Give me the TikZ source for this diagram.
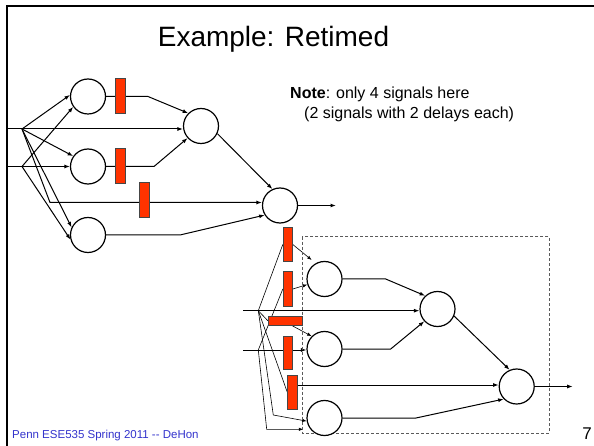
\documentclass[tikz,border=0pt]{standalone}
\usepackage{fontspec}
\setmainfont{Liberation Sans}
\usetikzlibrary{arrows.meta,calc}
\definecolor{regred}{RGB}{255,51,0}
\definecolor{regedge}{RGB}{70,70,70}
\definecolor{footblue}{RGB}{51,51,204}
\definecolor{boxgray}{RGB}{90,90,90}
\pgfdeclarelayer{wires}
\pgfsetlayers{wires,main}

\begin{document}
\begin{tikzpicture}[x=1pt,y=-1pt,
  gate/.style={circle, draw, line width=1.2pt, fill=white, minimum size=35pt, inner sep=0pt},
  wire/.style={line width=1pt},
  sig/.style={wire, -{Latex[length=5.5pt,width=4pt]}},
  fine/.style={line width=0.6pt},
  finesig/.style={fine, -{Latex[length=4.5pt,width=3.4pt]}},
  reg/.style={draw=regedge, fill=regred, line width=1pt, inner sep=0pt},
  vreg/.style={reg, minimum width=10pt, minimum height=35pt},
  dbox/.style={draw=boxgray, line width=0.8pt, dash pattern=on 3pt off 2pt},
  notetext/.style={font=\fontsize{16}{20}\selectfont, anchor=base west, inner sep=0pt}
]
\useasboundingbox (0,0) rectangle (594,446);

% slide frame
\draw[line width=2pt] (7,446) -- (7,6) -- (594,6);

% titles and labels
\node[font=\fontsize{28}{32}\selectfont, anchor=base] (title) at (273.5,47) {Example: Retimed};
\node[notetext] (note1) at (290,99) {\textbf{Note}: only 4 signals here};
\node[notetext] (note2) at (304,119) {(2 signals with 2 delays each)};
\node[font=\fontsize{11.5}{13}\selectfont, text=footblue, anchor=base west, inner sep=0pt] (foot) at (12,438.5)
  {Penn ESE535 Spring 2011 {-}{-} DeHon};
\node[font=\fontsize{17}{20}\selectfont, anchor=base, inner sep=0pt] (pageno) at (587,439) {7};

% ---------- upper network ----------
\coordinate (i1s) at (7,129);
\coordinate (i1) at (22,129);
\coordinate (i2s) at (7,166.5);
\coordinate (i2) at (22,166.5);
\node[gate] (A1) at (88,96.5) {};
\node[gate] (A2) at (88,166.5) {};
\node[gate] (A3) at (88,235) {};
\node[gate] (B) at (201,126) {};
\node[gate] (C) at (280,205.5) {};
\node[vreg] (R1) at (120,96.5) {};
\node[vreg] (R2) at (120,166.5) {};
\node[vreg] (R3) at (144.7,200.5) {};
\coordinate (k1) at (148,96.5);
\coordinate (k2) at (154,166.5);
\coordinate (k3) at (50,202.5);
\coordinate (k4) at (180,235);
\coordinate (cout) at (336,205.5);

\begin{pgfonlayer}{wires}
\draw[wire] (i1s) -- (i1);
\draw[wire] (i2s) -- (i2);
\draw[sig] (i1) -- (A1.175);
\draw[sig] (i1) -- (A2.145);
\draw[sig] (i1) -- (i1 -| B.west);
\draw[sig] (i1) -- (A3.155);
\draw[sig] (i1) -- (k3) -- (k3 -| C.west);
\draw[sig] (i2) -- (A1.215);
\draw[sig] (i2) -- (A2.west);
\draw[sig] (i2) -- (A3.195);
\draw[sig] (A1.east) -- (k1) -- (B.135);
\draw[sig] (A2.east) -- (k2) -- (B.222);
\draw[sig] (B.-25) -- (C.115);
\draw[sig] (A3.east) -- (k4) -- (C.212);
\draw[sig] (C.east) -- (cout);
\end{pgfonlayer}

% ---------- lower (retimed) network ----------
\draw[dbox] (302.3,236.7) rectangle (549,433);
\coordinate (l1s) at (243,310.7);
\coordinate (l1) at (258.3,310.7);
\coordinate (l2s) at (243,350);
\coordinate (l2) at (258.3,350);
\node[gate] (P1) at (324.5,279) {};
\node[gate] (P2) at (324.5,349) {};
\node[gate] (P3) at (324.5,418) {};
\node[gate] (Q) at (437.5,309) {};
\node[gate] (S) at (516.7,386.5) {};
\node[reg, minimum width=9pt, minimum height=34pt] (RA) at (287.8,244.5) {};
\node[reg, minimum width=9pt, minimum height=34pt] (RB) at (287.8,289) {};
\node[reg, minimum width=34pt, minimum height=9pt] (RC) at (285.3,320.7) {};
\node[reg, minimum width=9pt, minimum height=33pt] (RD) at (287.8,352.5) {};
\node[reg, minimum width=9.6pt, minimum height=34pt] (RE) at (292.5,392) {};
\coordinate (ra1) at (311.7,260);
\coordinate (rc1) at (289,324);
\coordinate (re1) at (292.5,385);
\coordinate (m1) at (273.3,415);
\coordinate (m2) at (266.7,429.3);
\coordinate (m3) at (303.3,429.3);
\coordinate (n1) at (385.7,279);
\coordinate (n2) at (390.7,349);
\coordinate (n3) at (416,418);
\coordinate (sout) at (572.7,386.5);

\begin{pgfonlayer}{wires}
\draw[wire] (l1s) -- (l1);
\draw[sig] (l1) -- (l1 -| Q.west);
\draw[sig] (l2s) -- (l2 -| P2.west);
\draw[fine] (l1) -- (RA.west);
\draw[fine] (l2) -- (RB.west);
\draw[fine] (l1) -- (RC.west);
\draw[fine] (l1) -- (RE.west);
\draw[finesig] (l1) -- (m1) -- (P3.190);
\draw[finesig] (l2) -- (m2) -- (m3);
\draw[finesig] (RA.east) -- (ra1);
\draw[finesig] (RB.east) -- (P1.198);
\draw[finesig] (rc1) -- (P2.135);
\draw[sig] (re1) -- (re1 -| S.west);
\draw[sig] (P1.east) -- (n1) -- (Q.133);
\draw[sig] (P2.east) -- (n2) -- (Q.223);
\draw[sig] (Q.-23) -- (S.113);
\draw[sig] (P3.east) -- (n3) -- (S.224);
\draw[sig] (S.east) -- (sout);
\end{pgfonlayer}
\end{tikzpicture}
\end{document}
